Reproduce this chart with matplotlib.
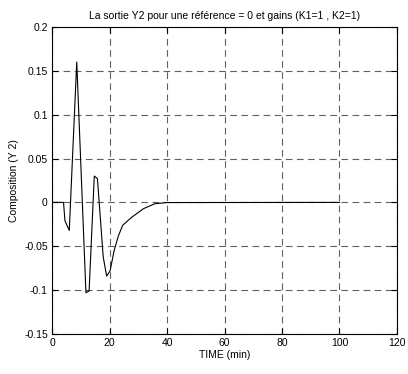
import matplotlib
matplotlib.use('Agg')
import matplotlib.pyplot as plt

plt.rcParams['font.family'] = ['Liberation Sans', 'DejaVu Sans']

# Sortie Y2
time = [0, 4, 4.5, 6, 8.6, 11.8, 12.9, 14.7, 15.8, 17.8, 19, 20.2, 21.6,
        23.1, 24.6, 27.7, 31.8, 35.8, 40, 100]
y2 = [0, 0, -0.021, -0.032, 0.160, -0.103, -0.101, 0.030, 0.027, -0.062,
      -0.084, -0.078, -0.055, -0.038, -0.026, -0.017, -0.0072, -0.0015,
      -0.0002, 0]

xticks = [0, 20, 40, 60, 80, 100, 120]
yticks = [-0.15, -0.1, -0.05, 0, 0.05, 0.1, 0.15, 0.2]
yticklabels = ['-0.15', '-0.1', '-0.05', '0', '0.05', '0.1', '0.15', '0.2']

fig = plt.figure(figsize=(4.08, 3.74), dpi=100)
ax = fig.add_axes([0.1275, 0.107, 0.8455, 0.821])
ax.plot(time, y2, color='black', linewidth=0.8)

ax.set_xlim(0, 120)
ax.set_ylim(-0.15, 0.2)
ax.set_xticks(xticks)
ax.set_yticks(yticks)
ax.set_yticklabels(yticklabels)
ax.tick_params(direction='in', top=True, right=True, length=4, width=0.8,
               labelsize=7.5, pad=3)
ax.grid(True, color='#606060', linestyle=(0, (6, 4)), linewidth=0.8)
for s in ax.spines.values():
    s.set_linewidth(0.8)

ax.set_title('La sortie Y2 pour une référence = 0 et gains (K1=1 , K2=1)',
             fontsize=7.5, pad=6)
ax.set_xlabel('TIME (min)', fontsize=7.5, labelpad=1)
ax.set_ylabel('Composition (Y 2)', fontsize=7.5, labelpad=4)

plt.savefig('out.png', dpi=100)
